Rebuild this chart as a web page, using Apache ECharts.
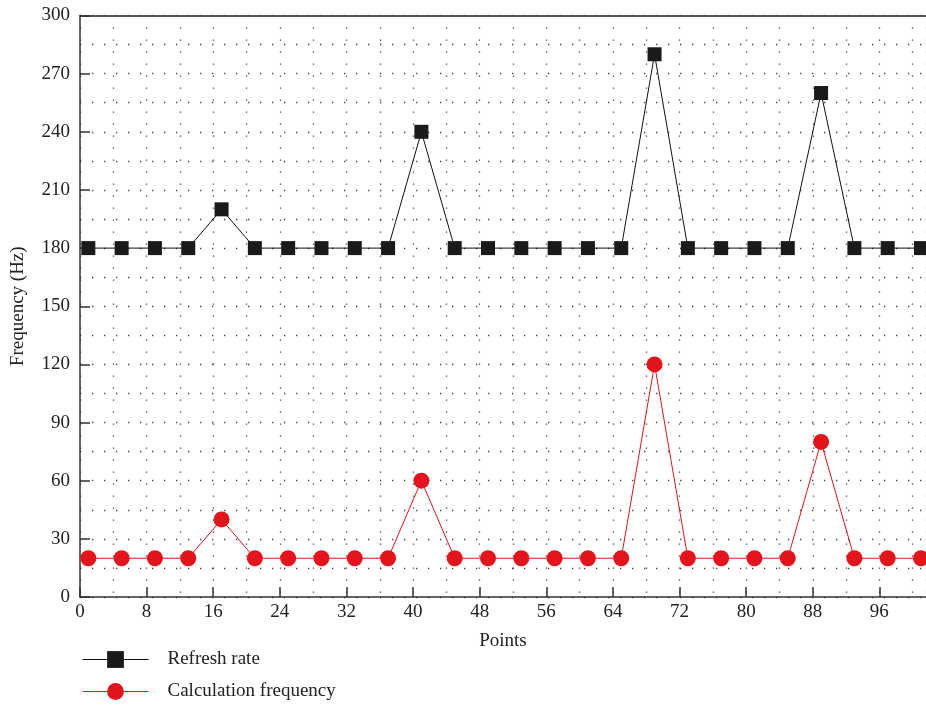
<!DOCTYPE html>
<html><head><meta charset="utf-8">
<script src="https://cdn.jsdelivr.net/npm/echarts@6/dist/echarts.min.js"></script>
<style>html,body{margin:0;padding:0;background:#fff}#c{width:926px;height:708px}</style>
</head><body><div id="c"></div>
<script>
const points = [1,5,9,13,17,21,25,29,33,37,41,45,49,53,57,61,65,69,73,77,81,85,89,93,97,101];
const refreshRate = [180,180,180,180,200,180,180,180,180,180,240,180,180,180,180,180,180,280,180,180,180,180,260,180,180,180];
const calcFreq = [20,20,20,20,40,20,20,20,20,20,60,20,20,20,20,20,20,120,20,20,20,20,80,20,20,20];
const FONT = 'Liberation Serif';
const dotted = {color:'#444', width:1.3, type:[1.3,10.7]};
const chart = echarts.init(document.getElementById('c'));
chart.setOption({
  animation:false,
  grid:{left:80, right:0, top:15.5, bottom:111, containLabel:false, outerBoundsMode:'none'},
  xAxis:[{
    type:'value', min:0, max:101.6, interval:8,
    name:'Points', nameLocation:'middle', nameGap:35,
    nameTextStyle:{fontFamily:FONT, fontSize:19, color:'#222'},
    axisLine:{lineStyle:{color:'#333', width:1.5}},
    axisTick:{inside:true, length:10, lineStyle:{color:'#333', width:1.5}},
    axisLabel:{fontFamily:FONT, fontSize:19, color:'#222', margin:6, showMaxLabel:false},
    splitLine:{show:true, lineStyle:dotted},
    minorTick:{show:false, splitNumber:2},
    minorSplitLine:{show:true, lineStyle:dotted}
  },{
    type:'value', position:'top', min:0, max:101.6,
    axisLine:{show:true, lineStyle:{color:'#555', width:2}},
    axisTick:{show:false}, axisLabel:{show:false}, splitLine:{show:false}
  }],
  yAxis:{
    type:'value', min:0, max:300, interval:30,
    name:'Frequency (Hz)', nameLocation:'middle', nameGap:52,
    nameTextStyle:{fontFamily:FONT, fontSize:19, color:'#222'},
    axisLine:{show:true, lineStyle:{color:'#333', width:1.5}},
    axisTick:{show:true, inside:true, length:10, lineStyle:{color:'#333', width:1.5}},
    axisLabel:{fontFamily:FONT, fontSize:19, color:'#222', margin:10},
    splitLine:{show:true, lineStyle:dotted},
    minorTick:{show:false, splitNumber:2},
    minorSplitLine:{show:true, lineStyle:dotted}
  },
  legend:{
    orient:'vertical', left:82, top:650, padding:0, itemGap:13, itemWidth:66, itemHeight:21,
    lineStyle:{width:1},
    textStyle:{fontFamily:FONT, fontSize:19, color:'#222', padding:[0,0,0,14]},
    data:['Refresh rate','Calculation frequency']
  },
  series:[{
    name:'Refresh rate', type:'line', symbol:'rect', symbolSize:14,
    data:points.map((p,i)=>[p,refreshRate[i]]),
    lineStyle:{color:'#111', width:1}, itemStyle:{color:'#1a1a1a'}
  },{
    name:'Calculation frequency', type:'line', symbol:'circle', symbolSize:16,
    data:points.map((p,i)=>[p,calcFreq[i]]),
    lineStyle:{color:'#e3141c', width:1}, itemStyle:{color:'#e3141c'}
  }]
});
</script></body></html>
